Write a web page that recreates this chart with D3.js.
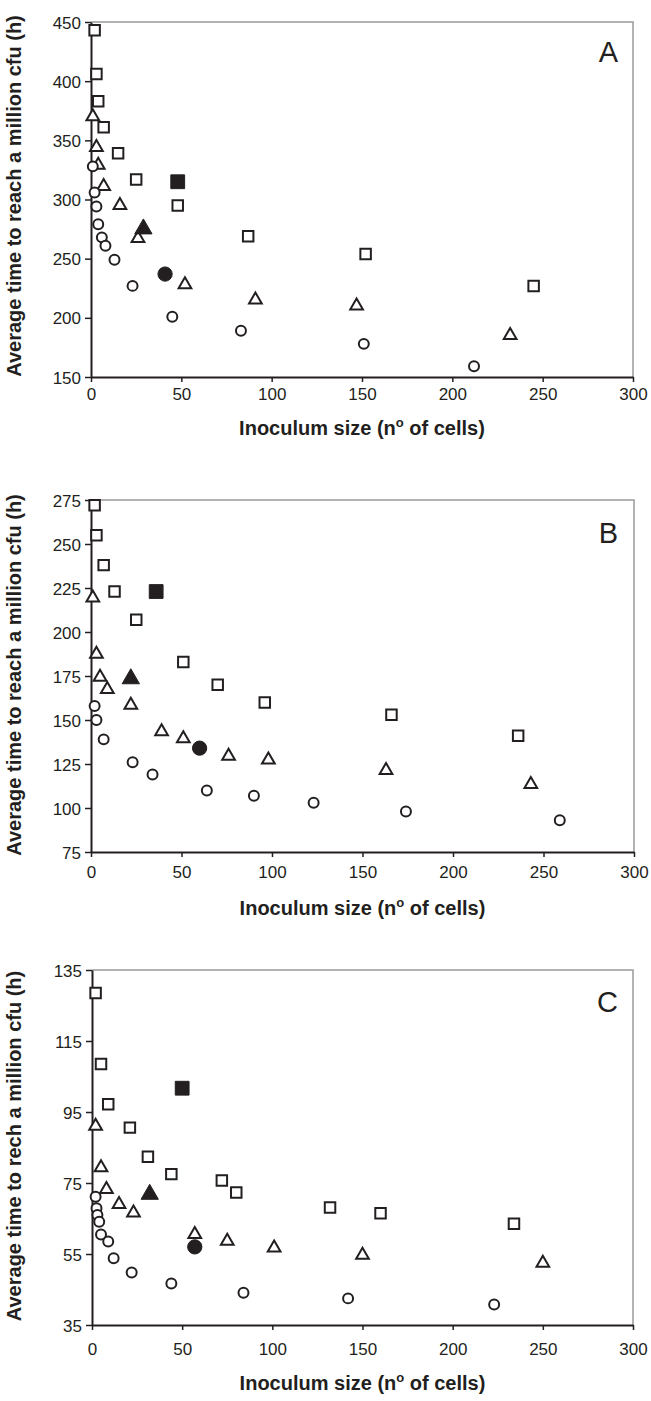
<!doctype html>
<head>
  <meta charset="utf-8">
  <title>Inoculum size vs time to a million cfu</title>
  <script src="https://cdnjs.cloudflare.com/ajax/libs/d3/7.8.5/d3.min.js"></script>
  <style>
    body { margin: 0; background: #fff; }
    svg { display: block; font-family: "Liberation Sans", Arial, sans-serif; }
  </style>
</head>
<body>
  <div id="chart"></div>

  <script type="text/javascript">
    // [inoculum size, average time (h)]
    var aSquares   = [[2, 443], [3, 406], [4, 383], [7, 361], [15, 339], [25, 317], [48, 295], [87, 269], [152, 254], [245, 227]];
    var aTriangles = [[1, 371], [3, 345], [4, 330], [7, 312], [16, 296], [26, 268], [52, 229], [91, 216], [147, 211], [232, 186]];
    var aCircles   = [[1, 328], [2, 306], [3, 294], [4, 279], [6, 268], [8, 261], [13, 249], [23, 227], [45, 201], [83, 189], [151, 178], [212, 159]];
    var aFilled    = { square: [48, 315], triangle: [29, 276], circle: [41, 237] };

    var bSquares   = [[2, 272], [3, 255], [7, 238], [13, 223], [25, 207], [51, 183], [70, 170], [96, 160], [166, 153], [236, 141]];
    var bTriangles = [[1, 220], [3, 188], [5, 175], [9, 168], [22, 159], [39, 144], [51, 140], [76, 130], [98, 128], [163, 122], [243, 114]];
    var bCircles   = [[2, 158], [3, 150], [7, 139], [23, 126], [34, 119], [64, 110], [90, 107], [123, 103], [174, 98], [259, 93]];
    var bFilled    = { square: [36, 223], triangle: [22, 174], circle: [60, 134] };

    var cSquares   = [[2, 128.5], [5, 108.5], [9, 97.2], [21, 90.6], [31, 82.4], [44, 77.5], [72, 75.7], [80, 72.3], [132, 68.1], [160, 66.5], [234, 63.5]];
    var cTriangles = [[2, 91.3], [5, 79.6], [8, 73.5], [15, 69.3], [23, 66.9], [57, 60.8], [75, 58.9], [101, 57], [150, 55], [250, 52.7]];
    var cCircles   = [[2, 71.1], [2.5, 67.9], [3, 66], [4, 64.1], [5, 60.5], [9, 58.5], [12, 53.8], [22, 49.8], [44, 46.7], [84, 44.1], [142, 42.5], [223, 40.8]];
    var cFilled    = { square: [50, 101.7], triangle: [32, 72.1], circle: [57, 57] };

    var xTicks = [0, 50, 100, 150, 200, 250, 300];
    var aYTicks = [150, 200, 250, 300, 350, 400, 450];
    var bYTicks = [75, 100, 125, 150, 175, 200, 225, 250, 275];
    var cYTicks = [35, 55, 75, 95, 115, 135];

    var yTitles = ['Average time to reach a million cfu (h)', 'Average time to reach a million cfu (h)', 'Average time to rech a million cfu (h)'];
    var letters = ['A', 'B', 'C'];

    var ink = '#231f20';

    var panels = [
      { sq: aSquares, tri: aTriangles, cir: aCircles, filled: aFilled, yTicks: aYTicks,
        left: 91, right: 633, top: 22, bottom: 377, labelDy: 23, titleY: 435, yTitleC: 196, letterY: 62 },
      { sq: bSquares, tri: bTriangles, cir: bCircles, filled: bFilled, yTicks: bYTicks,
        left: 91, right: 634, top: 500, bottom: 852, labelDy: 26, titleY: 915, yTitleC: 675, letterY: 543 },
      { sq: cSquares, tri: cTriangles, cir: cCircles, filled: cFilled, yTicks: cYTicks,
        left: 92, right: 633, top: 970, bottom: 1325, labelDy: 30, titleY: 1390, yTitleC: 1146, letterY: 1012 }
    ];

    var svg = d3.select('div#chart')
      .append('svg')
      .attr('width', 651)
      .attr('height', 1401);

    var sym = {
      square: d3.symbol().type(d3.symbolSquare),
      triangle: d3.symbol().type(d3.symbolTriangle),
      circle: d3.symbol().type(d3.symbolCircle)
    };

    panels.forEach(function(p, i) {
      var yDom = d3.extent(p.yTicks);
      var x = d3.scaleLinear().domain([0, 300]).range([p.left, p.right]);
      var y = d3.scaleLinear().domain(yDom).range([p.bottom, p.top]);

      var g = svg.append('g');

      // grey frame on top and right
      g.append('path')
        .attr('d', 'M' + x(0) + ',' + y(yDom[1]) + 'H' + x(300) + 'V' + y(yDom[0]))
        .attr('fill', 'none')
        .attr('stroke', '#9a9a9a')
        .attr('stroke-width', 1.5);

      var xAxis = g.append('g')
        .attr('transform', 'translate(0,' + p.bottom + ')')
        .call(d3.axisBottom(x).tickValues(xTicks).tickSize(5).tickSizeOuter(0).tickFormat(d3.format('d')));
      xAxis.selectAll('text').attr('dy', null).attr('y', p.labelDy);

      var yAxis = g.append('g')
        .attr('transform', 'translate(' + p.left + ',0)')
        .call(d3.axisLeft(y).tickValues(p.yTicks).tickSize(6).tickSizeOuter(0).tickFormat(d3.format('d')));
      yAxis.selectAll('text').attr('x', -10).attr('dy', '0.36em');

      [xAxis, yAxis].forEach(function(ax) {
        ax.select('.domain').attr('stroke', ink).attr('stroke-width', 2);
        ax.selectAll('.tick line').attr('stroke', ink).attr('stroke-width', 1.5);
        ax.selectAll('.tick text')
          .attr('fill', ink)
          .attr('font-size', '17px')
          .attr('font-family', '"Liberation Sans", Arial, sans-serif');
      });

      // open markers
      var open = [
        { data: p.sq, shape: 'square', size: 110 },
        { data: p.tri, shape: 'triangle', size: 70 },
        { data: p.cir, shape: 'circle', size: 78 }
      ];
      open.forEach(function(s) {
        g.selectAll(null)
          .data(s.data)
          .enter()
          .append('path')
          .attr('transform', function(d) {
            var dy = s.shape === 'triangle' ? 1 : 0;
            return 'translate(' + x(d[0]) + ',' + (y(d[1]) + dy) + ')';
          })
          .attr('d', sym[s.shape].size(s.size))
          .attr('fill', 'white')
          .attr('stroke', ink)
          .attr('stroke-width', 2);
      });

      // filled markers
      var filledSizes = { square: 190, triangle: 130, circle: 160 };
      ['square', 'triangle', 'circle'].forEach(function(k) {
        var d = p.filled[k];
        g.append('path')
          .attr('transform', 'translate(' + x(d[0]) + ',' + (y(d[1]) + (k === 'triangle' ? 1 : 0)) + ')')
          .attr('d', sym[k].size(filledSizes[k]))
          .attr('fill', ink)
          .attr('stroke', ink)
          .attr('stroke-width', 1);
      });

      // panel letter
      g.append('text')
        .text(letters[i])
        .attr('x', 618)
        .attr('y', p.letterY)
        .attr('text-anchor', 'end')
        .attr('font-size', '29px')
        .attr('fill', ink);

      // axis titles
      var xt = g.append('text')
        .attr('x', (p.left + p.right) / 2 + 0)
        .attr('y', p.titleY)
        .attr('text-anchor', 'middle')
        .attr('font-size', '20px')
        .attr('font-weight', 'bold')
        .attr('fill', ink);
      xt.append('tspan').text('Inoculum size (n');
      xt.append('tspan').text('o').attr('font-size', '13px').attr('dy', -8);
      xt.append('tspan').text(' of cells)').attr('dy', 8);

      g.append('text')
        .text(yTitles[i])
        .attr('transform', 'translate(21,' + p.yTitleC + ') rotate(-90)')
        .attr('text-anchor', 'middle')
        .attr('font-size', '20px')
        .attr('font-weight', 'bold')
        .attr('fill', ink);
    });
  </script>
</body>
</html>
